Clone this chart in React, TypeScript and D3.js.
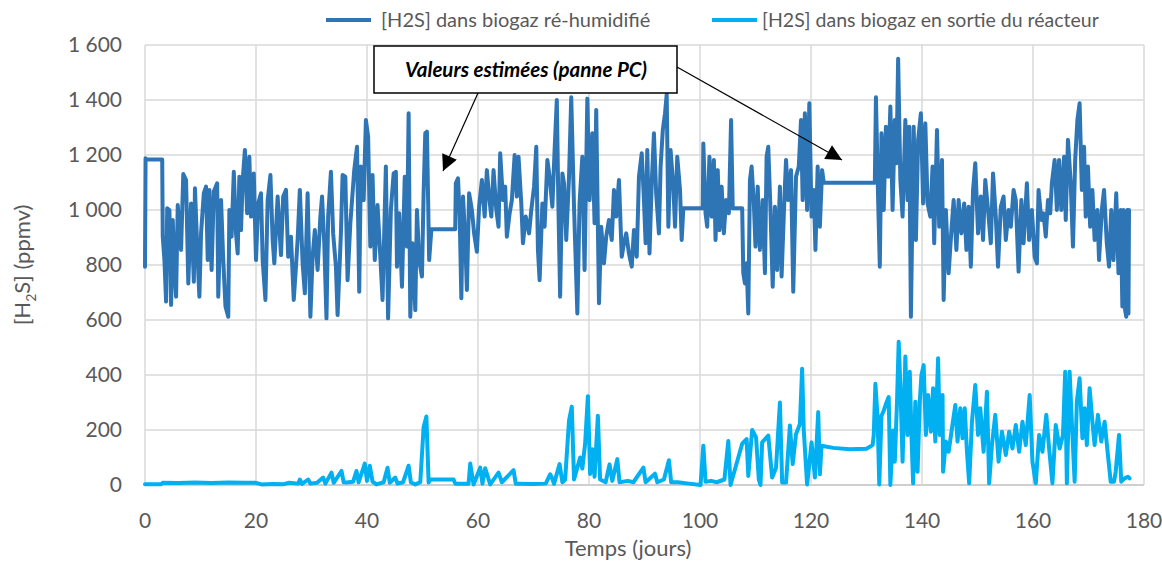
import React from "react";
import * as d3 from "d3";

// [jour, ppmv]
const reHumidifie: [number, number][] = [
  [0,794],[0.1,1188],[0.3,1184],[3.1,1184],[3.2,903],[3.5,818],[3.8,667],[4.0,1006],[4.4,1000],[4.7,655],[5,964],[5.3,782],[5.6,685],[5.9,1018],[6.5,855],[6.9,1131],[7.4,1109],[7.8,733],[8.3,1024],[8.8,739],[9,1079],[9.5,818],[9.8,685],[10.1,915],[10.6,1061],[11,1085],[11.3,818],[11.6,1073],[12,782],[12.4,1067],[13,1097],[13.2,685],[13.7,1036],[14.1,818],[14.5,649],[15,612],[15.2,1000],[15.6,903],[16,1139],[16.4,915],[16.7,842],[17,1121],[17.3,927],[17.6,1109],[18,1218],[18.4,988],[18.8,1194],[19.1,976],[19.6,1133],[20,818],[20.4,1024],[20.9,1061],[21.2,818],[21.7,673],[22.1,1036],[22.6,1127],[23,891],[23.3,806],[23.9,1049],[24.5,836],[24.9,1049],[25.4,1073],[25.8,830],[26.3,903],[26.8,673],[27.2,794],[27.5,891],[27.9,1073],[28.4,806],[28.8,697],[29.3,1061],[29.8,612],[30.2,830],[30.6,927],[31.1,782],[31.6,976],[31.9,1049],[32.3,879],[32.7,606],[33,976],[33.5,1139],[33.9,915],[34.4,794],[34.7,618],[35.3,915],[35.6,1127],[36.1,1121],[36.5,745],[37,952],[37.7,1145],[38.2,1230],[38.6,703],[38.9,1158],[39.4,1036],[39.8,1327],[40.2,1267],[40.6,867],[41,1127],[41.4,818],[41.9,1018],[42.4,830],[42.8,673],[43.4,1158],[43.8,606],[44.3,1000],[44.8,1133],
  [45.2,1139],[45.4,794],[45.8,988],[46.3,721],[46.8,1121],[47.2,867],[47.5,1352],[47.8,612],[48.2,879],[48.7,636],[49,1000],[49.4,818],[49.9,758],[50.2,1061],[50.5,1279],[50.8,1285],[51.2,818],[51.6,930],[55.9,930],[56,1097],[56.4,1115],[56.7,976],[57,679],[57.3,1049],[57.7,891],[58,709],[58.4,1061],[58.9,1000],[59.3,915],[59.8,848],[60.2,1012],[60.7,1109],[61.2,976],[61.6,1145],[62,1049],[62.4,976],[62.8,1145],[63.3,1000],[63.7,939],[64,1206],[64.5,1036],[64.9,1085],[65.2,903],[65.7,988],[66.1,1036],[66.6,1200],[67,1049],[67.3,1194],[67.8,1024],[68.1,879],[68.6,976],[69.2,915],[69.6,1000],[70.1,1085],[70.5,1230],[70.8,855],[71.1,745],[71.6,1024],[72,939],[72.5,1182],[72.9,1121],[73.4,1012],[73.8,1218],[74.2,1400],[74.5,1000],[74.8,685],[75.2,1133],[75.5,1097],[75.9,891],[76.4,1121],[76.8,1410],[77.3,1012],[77.9,624],[78.3,1024],[78.8,1194],[79.2,782],[79.7,1405],[80.1,1036],[80.6,1279],[81,952],[81.3,1364],[81.8,661],[82.2,939],[82.7,806],[83.1,903],[83.6,964],[84.1,891],[84.5,1073],[84.9,976],[85.4,1109],[85.9,830],[86.3,879],[86.7,915],[87.2,842],[87.7,794],[88.1,927],[88.6,830],[89,1121],[89.5,1206],[89.9,1036],[90.2,879],
  [90.5,1218],[90.9,842],[91.3,1097],[91.7,1279],[92.1,1061],[92.6,915],[92.9,1158],[93.3,1291],[93.7,1352],[94,1420],[94.3,939],[94.7,1218],[95.2,1085],[95.5,939],[95.9,1194],[96.4,1073],[96.7,891],[97,1006],[100.5,1006],[100.6,1242],[101,988],[101.3,939],[101.7,1194],[102.1,976],[102.5,1182],[102.8,891],[103.2,1145],[103.5,927],[103.9,1085],[104.3,915],[104.7,1036],[105.2,988],[105.6,1327],[105.9,1006],[107.6,1006],[107.8,770],[108.1,733],[108.4,806],[108.7,624],[109,1109],[109.3,1158],[109.7,1024],[110,867],[110.4,1085],[110.8,855],[111.3,1036],[111.7,770],[112,1194],[112.3,1230],[112.7,1000],[113.1,721],[113.5,1012],[113.9,782],[114.4,1085],[114.7,758],[115.2,1036],[115.5,1182],[115.9,1036],[116.4,1145],[116.8,703],[117.3,1121],[117.8,1158],[118.2,1327],[118.5,1036],[118.9,1352],[119.3,1000],[119.7,1388],[120.1,976],[120.5,1073],[120.8,855],[121.2,1158],[121.6,939],[122,1145],[122.3,1099],[131.5,1099],[131.7,1410],[132.1,1036],[132.4,794],[132.7,1279],[133.1,1000],[133.5,1303],[133.9,1121],[134.3,1376],[134.7,1000],[135.1,1327],
  [135.4,1170],[135.7,1550],[136.1,1109],[136.5,976],[137,1327],[137.4,1036],[137.7,1303],[138,612],[138.5,1303],[138.9,891],[139.3,1255],[139.8,1352],[140.2,1024],[140.6,1315],[141,1024],[141.5,976],[141.9,1158],[142.2,879],[142.7,1291],[143.1,939],[143.6,1182],[143.9,673],[144.3,1000],[144.8,770],[145.3,927],[145.7,1036],[146.2,855],[146.6,1036],[147.1,915],[147.6,1024],[148,855],[148.4,1012],[148.8,794],[149.2,1073],[149.6,1170],[150.1,915],[150.6,1049],[151,891],[151.4,1109],[151.9,1000],[152.4,879],[152.8,1133],[153.3,976],[153.7,794],[154.2,1012],[154.7,1049],[155.1,891],[155.6,1000],[156,939],[156.5,1073],[156.9,1036],[157.4,776],[157.9,1036],[158.3,879],[158.9,1097],[159.3,891],[159.8,1000],[160.3,830],[160.7,806],[161,1073],[161.5,964],[161.9,988],[162.3,903],[162.7,1036],[163.1,988],[163.4,1097],[163.9,1182],[164.3,1000],[164.7,1182],[165.1,1000],[165.6,1194],[165.9,964],[166.3,1255],[166.8,1097],[167.2,867],[167.6,1182],[168,1327],[168.4,1388],[168.8,1073],[169.2,1230],[169.5,976],[169.9,1158],[170.3,939],[170.7,1073],[171.1,891],[171.6,1000],[171.9,818],[172.4,1000],[172.8,1073],[173.3,879],[173.7,794],[174.1,1000],[174.5,818],[175,1061],[175.4,770],[175.8,1000],[176.1,649],[176.3,1000],[176.6,636],[176.8,612],[177,1000],[177.2,624],[177.3,1000]
];

const sortieReacteur: [number, number][] = [
  [0,3],[2.9,3],[3.2,8],[6,7],[9,9],[12,7],[15,9],[18,8],[20,8],[21,2],[23,4],[25,3],[26,8],[27.6,5],[27.9,20],[28.3,4],[29.4,20],[29.8,5],[31,8],[32.1,27],[32.5,5],[33.6,45],[34,8],[35.4,51],[35.8,10],[36.3,9],[37.5,12],[38.1,51],[38.5,10],[39.6,78],[40,15],[40.5,70],[41,12],[41.7,2],[43,10],[43.7,63],[44.1,8],[45.1,27],[45.5,5],[46.5,10],[47.5,70],[47.9,10],[48.7,2],[49.6,10],[50.2,210],[50.7,249],[51.1,9],[51.4,20],[55.6,20],[55.9,5],[58.3,5],[58.6,78],[59.2,2],[60.4,63],[60.8,5],[61.3,61],[62.2,2],[63.7,45],[64.3,10],[66.4,54],[66.8,5],[67.3,5],[70,4],[72.2,5],[73,39],[73.3,27],[73.7,4],[74.7,76],[75.2,10],[75.7,20],[76.4,234],[76.9,285],[77.3,20],[78.4,100],[78.8,60],[79.3,150],[79.8,323],[80.2,40],[80.6,130],[81,30],[81.6,252],[82,20],[83,10],[83.7,75],[84.2,15],[85.1,94],[85.5,10],[87,15],[88,10],[89.8,63],[90.2,10],[91.9,41],[92.3,10],[93.5,20],[94.4,90],[94.8,10],[96,10],[98,5],[100.1,0],[100.6,143],[101,12],[102,15],[103,10],[104.4,20],[105.1,160],[105.5,0],[107.6,150],[108.4,167],[108.7,33],[109.4,200],[110.1,173],[110.6,20],[110.9,0],[111.2,155],[112.3,180],[113,27],[113.7,63],[114.4,300],[114.8,9],[115.5,9],[116.2,216],[116.7,76],[117.3,185],[118,222],[118.4,423],[118.7,198],[119.3,2],[120.1,155],[120.7,27],[121.3,265],[121.6,39],[121.9,143],[124,135],[127,130],[130,132],[131.1,145],[131.3,180],[131.6,368],[132,246],[132.3,2],[132.7,252],[133.1,270],[133.6,300],[134,320],[134.3,0],[134.8,198],
  [135.1,85],[135.5,303],[135.8,521],[136.1,364],[136.5,85],[137,467],[137.4,182],[137.8,412],[138.1,182],[138.4,6],[138.8,303],[139.2,48],[139.6,303],[139.9,400],[140.3,436],[140.7,182],[141.1,327],[141.6,194],[142,352],[142.4,158],[142.9,461],[143.2,182],[143.7,327],[143.8,48],[144.3,158],[144.8,121],[145.4,206],[146,291],[146.4,158],[146.9,279],[147.3,170],[147.7,279],[148.1,121],[148.5,6],[149,230],[149.6,364],[150.1,182],[150.5,279],[151.1,121],[151.7,339],[152.1,6],[152.6,145],[153.2,255],[153.8,85],[154.4,194],[155.1,109],[155.7,194],[156.3,133],[156.9,218],[157.5,121],[158.1,230],[158.7,145],[159.4,327],[159.9,85],[160.5,6],[161.1,182],[161.7,121],[162.4,255],[162.9,133],[163.5,6],[164.1,218],[164.8,133],[165.4,182],[165.8,412],[166.1,6],[166.6,412],[167.1,182],[167.5,12],[167.9,303],[168.4,388],[168.9,170],[169.3,279],[169.7,145],[170.2,352],[170.7,230],[171.1,145],[171.7,255],[172.3,158],[172.9,230],[173.5,109],[174,12],[174.6,12],[174.9,48],[175.5,182],[175.9,12],[176.5,24],[177.1,30],[177.4,24]
];

const xTicks = [0, 20, 40, 60, 80, 100, 120, 140, 160, 180];
const yTicks = [0, 200, 400, 600, 800, 1000, 1200, 1400, 1600];
const legendLabels = ["[H2S] dans biogaz ré-humidifié", "[H2S] dans biogaz en sortie du réacteur"];
const annotationText = "Valeurs estimées (panne PC)";

const FONT = "Lato, 'Open Sans', sans-serif";
const DARK = "#2E75B6";
const LIGHT = "#00B0F0";
const TEXT = "#595959";

export default function App() {
  const x = d3.scaleLinear().domain([0, 180]).range([145, 1144]);
  const y = d3.scaleLinear().domain([0, 1600]).range([485, 45]);
  const line = d3
    .line<[number, number]>()
    .x((d) => x(d[0]))
    .y((d) => y(d[1]));
  const fmt = (v: number) => d3.format(",")(v).replace(",", " ");

  return (
    <svg
      width={1162}
      height={563}
      style={{ position: "absolute", left: 0, top: 0, background: "#fff" }}
      fontFamily={FONT}
    >
      <defs>
        <marker id="arrow" viewBox="0 0 10 10" refX="10" refY="5" markerWidth="18" markerHeight="16" markerUnits="userSpaceOnUse" orient="auto">
          <path d="M0,0 L10,5 L0,10 z" fill="#000" />
        </marker>
      </defs>
      {/* gridlines */}
      {yTicks.map((t) => (
        <line key={"gy" + t} x1={x(0)} x2={x(180)} y1={y(t)} y2={y(t)} stroke={t === 0 ? "#BFBFBF" : "#D9D9D9"} strokeWidth={1.5} />
      ))}
      {xTicks.map((t) => (
        <line key={"gx" + t} x1={x(t)} x2={x(t)} y1={y(0)} y2={y(1600)} stroke="#D9D9D9" strokeWidth={1.5} />
      ))}
      {/* tick labels */}
      {yTicks.map((t) => (
        <text key={"ly" + t} x={122} y={y(t) + 7} textAnchor="end" fontSize={21} fill={TEXT}>
          {fmt(t)}
        </text>
      ))}
      {xTicks.map((t) => (
        <text key={"lx" + t} x={x(t)} y={528} textAnchor="middle" fontSize={21} fill={TEXT}>
          {t}
        </text>
      ))}
      <text x={628} y={556} textAnchor="middle" fontSize={22} fill={TEXT}>
        Temps (jours)
      </text>
      <text transform="translate(30,265) rotate(-90)" textAnchor="middle" fontSize={22} fill={TEXT}>
        [H<tspan fontSize={14} dy={6}>2</tspan>
        <tspan dy={-6}>S] (ppmv)</tspan>
      </text>
      {/* series */}
      <path d={line(sortieReacteur) || ""} fill="none" stroke={LIGHT} strokeWidth={4} strokeLinejoin="round" strokeLinecap="round" />
      <path d={line(reHumidifie) || ""} fill="none" stroke={DARK} strokeWidth={4} strokeLinejoin="round" strokeLinecap="round" />
      {/* legend */}
      <line x1={326} x2={371} y1={20} y2={20} stroke={DARK} strokeWidth={4} />
      <text x={381} y={27} fontSize={20} fill={TEXT}>{legendLabels[0]}</text>
      <line x1={712} x2={757} y1={20} y2={20} stroke={LIGHT} strokeWidth={4} />
      <text x={762} y={27} fontSize={19.5} fill={TEXT}>{legendLabels[1]}</text>
      {/* annotation */}
      <rect x={374} y={46} width={303} height={47} fill="#fff" stroke="#000" strokeWidth={1.5} />
      <text x={526} y={77} textAnchor="middle" fontSize={20.5} fontWeight="bold" fontStyle="italic" fill="#000">
        {annotationText}
      </text>
      <line x1={478} y1={93} x2={443} y2={171} stroke="#000" strokeWidth={1.2} markerEnd="url(#arrow)" />
      <line x1={677} y1={67} x2={842} y2={160} stroke="#000" strokeWidth={1.2} markerEnd="url(#arrow)" />
    </svg>
  );
}
